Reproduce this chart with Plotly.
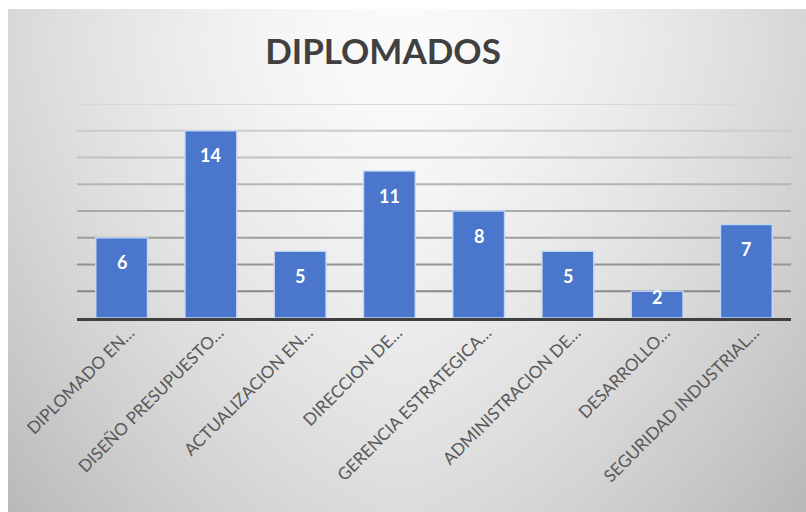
import base64
import struct
import zlib

import numpy as np
import plotly.graph_objects as go

# ---- data ----
categories = [
    "DIPLOMADO EN…",
    "DISEÑO PRESUPUESTO…",
    "ACTUALIZACION EN…",
    "DIRECCION DE…",
    "GERENCIA ESTRATEGICA…",
    "ADMINISTRACION DE…",
    "DESARROLLO…",
    "SEGURIDAD INDUSTRIAL…",
]
values = [6, 14, 5, 11, 8, 5, 2, 7]
title_text = "DIPLOMADOS"
y_max = 16
grid_step = 2

# ---- layout geometry (pixels) ----
W, H = 806, 512
M_L, M_R, M_T, M_B = 77, 15, 104, 194
plot_w = W - M_L - M_R
plot_h = H - M_T - M_B
# chart panel (grey gradient) bounds
PX0, PY0 = 8, 9


def gray_png_uri(arr):
    """Encode a 2-D uint8 array as a grayscale PNG data URI."""
    h, w = arr.shape
    raw = b"".join(b"\x00" + arr[r].tobytes() for r in range(h))

    def chunk(tag, data):
        return (struct.pack(">I", len(data)) + tag + data
                + struct.pack(">I", zlib.crc32(tag + data) & 0xFFFFFFFF))

    png = (b"\x89PNG\r\n\x1a\n"
           + chunk(b"IHDR", struct.pack(">IIBBBBB", w, h, 8, 0, 0, 0, 0))
           + chunk(b"IDAT", zlib.compress(raw, 9))
           + chunk(b"IEND", b""))
    return "data:image/png;base64," + base64.b64encode(png).decode()


# soft radial-style background: bright near the title, greyer toward the edges
bw, bh = W - PX0, H - PY0
xx, yy = np.meshgrid(np.arange(bw) + PX0, np.arange(bh) + PY0)
cx, cy = 400.0, 40.0
shade = (251.0
         - 34.0 * (np.abs(xx - cx) / 390.0) ** 1.5
         - 30.0 * (np.abs(yy - cy) / 460.0) ** 1.5)
bg = np.clip(shade, 0, 255).astype(np.uint8)
bg_uri = gray_png_uri(bg)

fig = go.Figure()

fig.add_trace(go.Bar(
    x=categories,
    y=values,
    marker=dict(color="#4a77cb", line=dict(color="rgba(200,218,245,0.9)", width=1.5)),
    hoverinfo="x+y",
))

# value labels near the top of each bar, kept inside short bars
pad, floor = 1.85, 1.55
for c, v in zip(categories, values):
    fig.add_annotation(
        x=c, y=max(v - pad, floor), text=str(v), showarrow=False,
        xanchor="center", yanchor="middle",
        font=dict(family="Lato, 'Open Sans', sans-serif", size=18, color="white", weight="bold"),
    )

# horizontal gridlines, fading toward the top
ticks = list(range(grid_step, y_max + 1, grid_step))
for i, t in enumerate(ticks):
    g = int(136 + (216 - 136) * i / (len(ticks) - 1))
    fig.add_shape(
        type="line", xref="paper", x0=0, x1=1, yref="y", y0=t, y1=t,
        line=dict(color=f"rgb({g},{g},{g})", width=2), layer="below",
    )

fig.add_layout_image(
    source=bg_uri, xref="paper", yref="paper",
    x=(PX0 - M_L) / plot_w, y=(H - M_B - PY0) / plot_h,
    sizex=bw / plot_w, sizey=bh / plot_h,
    xanchor="left", yanchor="top", sizing="stretch", layer="below",
)

fig.update_layout(
    width=W, height=H,
    margin=dict(l=M_L, r=M_R, t=M_T, b=M_B),
    paper_bgcolor="white",
    plot_bgcolor="rgba(0,0,0,0)",
    bargap=0.42,
    showlegend=False,
    title=dict(
        text=title_text, x=383 / W, xanchor="center", y=1 - 52 / H, yanchor="middle",
        font=dict(family="Lato, 'Open Sans', sans-serif", size=35, color="#404040", weight="bold"),
    ),
    xaxis=dict(
        showgrid=False, showline=True, linecolor="#3f3f3f", linewidth=3,
        tickangle=-45, ticks="", ticklen=0, ticklabelshift=8, ticklabelstandoff=-5,
        tickfont=dict(family="Lato, 'Open Sans', sans-serif", size=17, color="#595959"),
        fixedrange=True,
    ),
    yaxis=dict(
        range=[0, y_max], showgrid=False, zeroline=False, showticklabels=False,
        fixedrange=True,
    ),
)

fig.write_html("out.html")
